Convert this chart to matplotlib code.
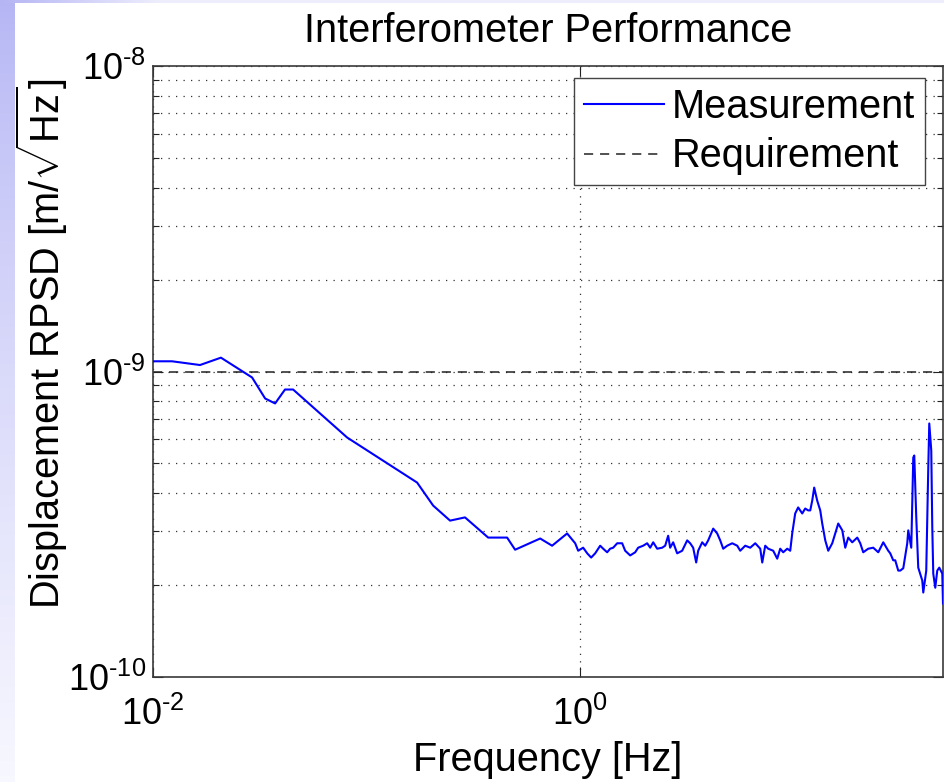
import numpy as np
import matplotlib
matplotlib.use("Agg")
import matplotlib.pyplot as plt
from matplotlib.ticker import FuncFormatter, LogLocator, NullFormatter, NullLocator

plt.rcParams["font.family"] = ["Liberation Sans", "DejaVu Sans"]
plt.rcParams["mathtext.fontset"] = "custom"
plt.rcParams["mathtext.rm"] = "Liberation Sans"
plt.rcParams["mathtext.it"] = "Liberation Sans:italic"
plt.rcParams["mathtext.bf"] = "Liberation Sans:bold"

# ---- measured displacement RPSD (freq in Hz, amplitude in 1e-10 m/sqrt(Hz)) ----
freq = [0.0100, 0.01228, 0.0166, 0.0208, 0.0291, 0.0335, 0.0373, 0.0415, 0.0453,
        0.0811, 0.1724, 0.205, 0.246, 0.289, 0.371, 0.455, 0.496, 0.650, 0.739,
        0.869, 0.948, 0.979, 1.033, 1.079, 1.126, 1.176, 1.241, 1.282, 1.338,
        1.382, 1.428, 1.491, 1.573, 1.625, 1.715, 1.810, 1.869, 1.973, 2.060,
        2.128, 2.198, 2.295, 2.422, 2.501, 2.583, 2.639, 2.726, 2.846, 3.004,
        3.171, 3.275, 3.382, 3.494, 3.570, 3.728, 3.851, 3.977, 4.198, 4.383,
        4.527, 4.676, 4.881, 5.152, 5.438, 5.617, 5.928, 6.258, 6.605, 6.970,
        7.122, 7.355, 7.597, 8.017, 8.370, 8.646, 8.930, 9.324, 9.630, 9.84,
        10.16, 10.49, 10.96, 11.32, 11.69, 11.95, 12.21, 12.47, 12.88, 13.31,
        13.60, 14.05, 14.51, 15.15, 15.65, 16.16, 16.88, 17.43, 18.00, 18.79,
        19.84, 20.49, 21.16, 22.33, 23.57, 24.88, 26.26, 27.71, 28.31, 29.24,
        29.88, 30.86, 31.54, 32.58, 34.01, 34.38, 35.51, 36.29, 36.68, 37.48,
        38.29, 39.98, 40.42, 41.74, 42.66, 43.12, 44.06, 44.54, 45.02, 46.00,
        47.00, 48.03, 49.61, 50.0]
asd = [10.8, 10.8, 10.5, 11.1, 9.56, 8.16, 7.86, 8.73, 8.73,
       6.08, 4.33, 3.64, 3.25, 3.33, 2.86, 2.86, 2.61, 2.84, 2.69,
       2.95, 2.74, 2.59, 2.65, 2.54, 2.46, 2.54, 2.69, 2.63, 2.56,
       2.63, 2.65, 2.74, 2.74, 2.59, 2.50, 2.56, 2.65, 2.69, 2.74,
       2.65, 2.76, 2.63, 2.65, 2.69, 2.90, 2.65, 2.76, 2.54, 2.59,
       2.80, 2.74, 2.65, 2.37, 2.59, 2.76, 2.69, 2.80, 3.06, 2.95,
       2.80, 2.63, 2.69, 2.74, 2.69, 2.59, 2.69, 2.65, 2.74, 2.63,
       2.37, 2.69, 2.63, 2.59, 2.44, 2.63, 2.56, 2.63, 2.59, 2.95,
       3.43, 3.59, 3.43, 3.56, 3.51, 3.51, 3.78, 4.17, 3.78, 3.51,
       3.18, 2.80, 2.59, 2.74, 2.95, 3.18, 3.02, 2.65, 2.86, 2.76,
       2.86, 2.74, 2.56, 2.63, 2.65, 2.56, 2.76, 2.59, 2.54, 2.41,
       2.41, 2.23, 2.23, 2.27, 2.74, 3.02, 2.65, 5.23, 5.31, 3.33,
       2.28, 2.07, 1.89, 2.23, 4.85, 6.76, 5.51, 3.09, 2.18, 1.96,
       2.23, 2.28, 2.18, 1.74]
asd_scale = 1e-10
requirement = 1e-9

fig = plt.figure(figsize=(9.45, 7.82), dpi=100)

# slide background strips (left and top edge)
strip = fig.add_axes([0, 0, 15 / 945, 1])
grad = np.linspace(0, 1, 256).reshape(-1, 1)
top_c = np.array([0.71, 0.71, 0.96])
bot_c = np.array([0.97, 0.97, 1.0])
img = top_c + (bot_c - top_c) * grad[:, :, None] ** 0.8
strip.imshow(img, aspect="auto", extent=[0, 1, 0, 1], origin="upper")
strip.axis("off")
band = fig.add_axes([0, 1 - 3 / 782, 1, 3 / 782])
hgrad = np.linspace(0, 1, 256).reshape(1, -1)
himg = top_c + (np.array([0.93, 0.93, 0.99]) - top_c) * np.clip(hgrad * 6, 0, 1)[:, :, None]
band.imshow(himg, aspect="auto", extent=[0, 1, 0, 1])
band.axis("off")

ax = fig.add_axes([153 / 945, 1 - 677 / 782, 790 / 945, 611 / 782])
ax.loglog(freq, np.array(asd) * asd_scale, color="#0000ff", lw=1.5,
          label="Measurement", zorder=3)
ax.axhline(requirement, color="#222222", lw=1.1, ls=(0, (6, 4.5)),
           label="Requirement", zorder=2)

ax.set_xlim(1e-2, 50)
ax.set_ylim(1e-10, 1e-8)

ax.set_xticks([1e-2, 1])
ax.xaxis.set_minor_locator(NullLocator())
ax.set_yticks([1e-10, 1e-9, 1e-8])
ax.yaxis.set_minor_locator(LogLocator(base=10, subs=range(2, 10)))
ax.yaxis.set_minor_formatter(NullFormatter())


def pow10(v, pos):
    e = int(round(np.log10(v)))
    if e < 0:
        return r"$\mathdefault{10^{\text{-}%d}}$" % (-e)
    return r"$\mathdefault{10^{%d}}$" % e


ax.xaxis.set_major_formatter(FuncFormatter(pow10))
ax.yaxis.set_major_formatter(FuncFormatter(pow10))
ax.tick_params(which="both", direction="in", top=True, right=True,
               labelsize=26, colors="#222222", labelcolor="black")
ax.tick_params(which="major", length=7, width=0.8, pad=5)
ax.tick_params(axis="x", which="major", pad=14)
ax.tick_params(which="minor", length=4, width=0.8)

grid_kw = dict(color="#333333", lw=0.9, ls=(0, (1, 5)))
ax.yaxis.grid(True, which="both", **grid_kw)
ax.xaxis.grid(True, which="major", **grid_kw)
ax.set_axisbelow(True)
for s in ax.spines.values():
    s.set_color("#3a3a3a")
    s.set_linewidth(1.2)

ax.set_title("Interferometer Performance", fontsize=28.6, pad=17)
ax.set_xlabel("Frequency [Hz]", fontsize=28.6, labelpad=6)
ax.set_ylabel(r"Displacement RPSD [m/$\sqrt{\mathrm{Hz}}$]", fontsize=28.6)
ax.yaxis.set_label_coords(-0.105, 0.545)

leg = ax.legend(loc="upper right", bbox_to_anchor=(0.977, 0.981), fontsize=28.6,
                handlelength=2.0, handletextpad=0.2, labelspacing=0.3,
                borderpad=0.25, borderaxespad=0, fancybox=False, framealpha=1)
leg.get_frame().set_edgecolor("#444444")
leg.get_frame().set_linewidth(1.0)

fig.savefig("out.png", dpi=100)
